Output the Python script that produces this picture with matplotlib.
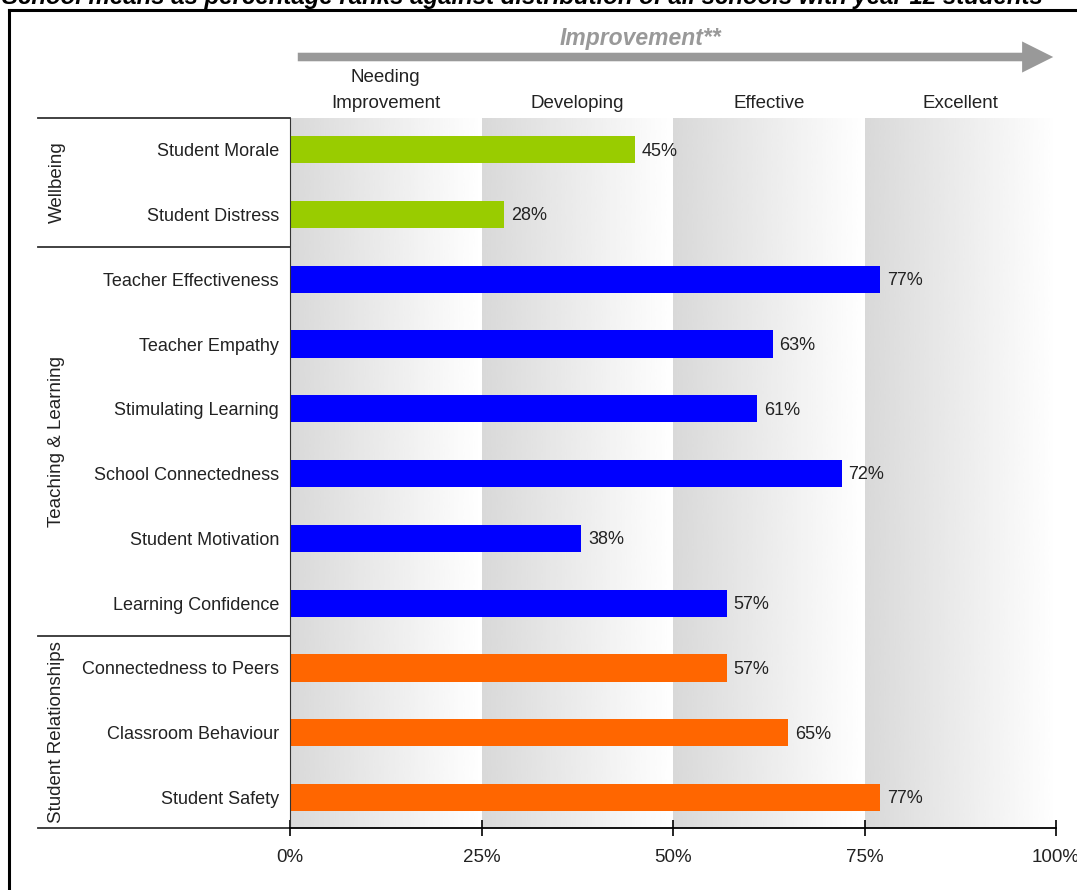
import numpy as np
import matplotlib
matplotlib.use('Agg')
import matplotlib.pyplot as plt
from matplotlib.lines import Line2D
from matplotlib.patches import FancyArrowPatch
import matplotlib.transforms as mtransforms

plt.rcParams['font.family'] = ['Liberation Sans', 'DejaVu Sans']

# scale data
measures = ['Student Morale', 'Student Distress',
            'Teacher Effectiveness', 'Teacher Empathy', 'Stimulating Learning',
            'School Connectedness', 'Student Motivation', 'Learning Confidence',
            'Connectedness to Peers', 'Classroom Behaviour', 'Student Safety']
ranks = [45, 28, 77, 63, 61, 72, 38, 57, 57, 65, 77]
groups = ['Wellbeing', 'Teaching & Learning', 'Student Relationships']
group_sizes = [2, 6, 3]
group_colors = ['#99cc00', '#0000ff', '#ff6600']
bands = ['Needing\nImprovement', 'Developing', 'Effective', 'Excellent']
band_edges = [0, 25, 50, 75, 100]
xticks = [0, 25, 50, 75, 100]

colors = []
for c, n in zip(group_colors, group_sizes):
    colors += [c] * n

fig = plt.figure(figsize=(10.77, 8.9), dpi=100)
ax = fig.add_axes([290 / 1077, 1 - 828 / 890, 766 / 1077, 710 / 890])

y = np.arange(len(measures))
ymin, ymax = 10.47, -0.49
ax.set_xlim(0, 100)
ax.set_ylim(ymin, ymax)

# gradient background for each performance band
grad = np.linspace(0.85, 1.0, 256).reshape(1, -1)
for lo, hi in zip(band_edges[:-1], band_edges[1:]):
    ax.imshow(grad, cmap='gray', vmin=0, vmax=1, aspect='auto',
              extent=(lo, hi, ymin, ymax), zorder=0, interpolation='bicubic')

ax.barh(y, ranks, height=0.42, color=colors, zorder=2)
for yi, v in zip(y, ranks):
    ax.text(v + 0.9, yi + 0.02, f'{v}%', va='center', ha='left', fontsize=13, color='#222222')

ax.set_yticks(y)
ax.set_yticklabels(measures, fontsize=13, color='#222222')
ax.tick_params(axis='y', length=0, pad=8)
ax.set_xticks(xticks)
ax.set_xticklabels([f'{t}%' for t in xticks], fontsize=13.5, color='#222222')
ax.tick_params(axis='x', direction='inout', length=12, width=1.2, pad=9)

for s in ['top', 'right']:
    ax.spines[s].set_visible(False)
ax.spines['left'].set_color('#333333')
ax.spines['bottom'].set_linewidth(1.3)

# group brackets on the left
trans = mtransforms.blended_transform_factory(ax.transAxes, ax.transData)
x_left = (38 - 290) / 766
bounds = np.concatenate([[0], np.cumsum(group_sizes)]) - 0.5
bounds[0] = ymax
bounds[-1] = ymin
for b in bounds:
    ax.add_line(Line2D([x_left, 0], [b, b], transform=trans, color='#333333',
                       lw=1.3, clip_on=False))
for g, lo, hi in zip(groups, bounds[:-1], bounds[1:]):
    ax.text((57 - 290) / 766, (lo + hi) / 2, g, rotation=90, ha='center', va='center',
            fontsize=13.5, color='#222222', transform=trans)

# band names above the plot
btrans = mtransforms.blended_transform_factory(ax.transData, ax.transAxes)
for name, lo, hi in zip(bands, band_edges[:-1], band_edges[1:]):
    ax.text((lo + hi) / 2, 1 + 6 / 710, name, transform=btrans,
            ha='center', va='bottom', fontsize=13.5, color='#222222',
            linespacing=1.7)

# improvement arrow
ay = 1 - 57 / 890
fig.add_artist(FancyArrowPatch(
    (295 / 1077, ay), (1056 / 1077, ay), transform=fig.transFigure,
    arrowstyle='simple,head_width=0.8,head_length=0.8,tail_width=0.22',
    mutation_scale=28, color='#999999', lw=0))
fig.text(640 / 1077, 1 - 38 / 890, 'Improvement**', ha='center', va='center',
         fontsize=16.5, fontweight='bold', style='italic', color='#999999')

# page title and frame
fig.text(2 / 1077, 1 - 4 / 890,
         'School means as percentage ranks against distribution of all schools with year 12 students',
         ha='left', va='baseline', fontsize=17.3, fontweight='bold', style='italic', color='black')
fig.add_artist(Line2D([9 / 1077, 9 / 1077], [0, 1 - 10 / 890], color='black', lw=2.2))
fig.add_artist(Line2D([9 / 1077, 1], [1 - 10 / 890, 1 - 10 / 890], color='black', lw=2.2))

fig.savefig('out.png', dpi=100)
